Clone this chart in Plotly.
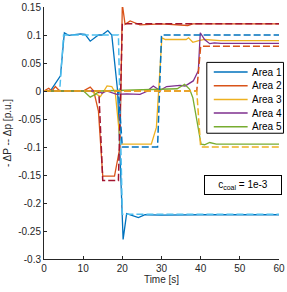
import plotly.graph_objects as go

# ---------------- data ----------------
area_names = ["Area 1", "Area 2", "Area 3", "Area 4", "Area 5"]

t_area1 = [0, 1.6, 4.2, 5.2, 6.3, 9.3, 10.5, 11.8, 13.9, 14.8, 16.3, 17.3, 18.8, 20.2, 21.1, 24.1, 25.8, 30, 40, 50, 60]
p_area1 = [0, 0, 0.027, 0.104, 0.0995, 0.102, 0.101, 0.089, 0.1, 0.1, 0.108, 0.1, 0.0, -0.265, -0.219, -0.226, -0.221, -0.2215, -0.221, -0.221, -0.221]

t_area2 = [0, 1.2, 2, 2.9, 4, 10, 11.8, 12.7, 13.9, 15.0, 18.0, 19.4, 20.0, 20.7, 22, 23.3, 24.5, 30, 36.7, 38, 45, 60]
p_area2 = [0, 0.005, 0, 0.008, 0, 0, 0.007, 0.0, -0.036, -0.152, -0.152, -0.1, 0.155, 0.119, 0.125, 0.121, 0.118, 0.12, 0.117, 0.12, 0.12, 0.12]

t_area3 = [0, 10, 12, 14.4, 16.1, 17.3, 18.2, 19.5, 20.5, 27.4, 28.7, 30.1, 31, 36.3, 36.9, 38, 39.5, 41, 45, 60]
p_area3 = [0, 0, 0, -0.01, 0.009, 0.008, -0.003, -0.095, -0.095, -0.095, -0.065, 0.095, 0.092, 0.092, 0.095, 0.087, 0.09, 0.092, 0.09, 0.09]

t_area4 = [0, 14, 14.8, 16, 18.6, 21.1, 24.5, 26.2, 27.9, 29.6, 31.3, 34.7, 36, 38.1, 39.4, 39.9, 41, 42.3, 43.5, 45.2, 60]
p_area4 = [0, 0, -0.004, 0, -0.006, -0.005, -0.006, -0.001, 0.009, 0.001, 0.008, 0.010, 0.009, 0.018, 0.036, 0.104, 0.092, 0.0845, 0.086, 0.085, 0.085]

t_area5 = [0, 10.1, 11.8, 13.1, 14.2, 20, 30, 34, 35.9, 37.2, 38, 39.4, 40.1, 41, 42.3, 44, 60]
p_area5 = [0, 0, -0.011, -0.006, 0, 0.001, 0.002, 0.004, 0.012, 0.003, -0.012, -0.071, -0.095, -0.096, -0.092, -0.095, -0.095]

# reference set points (dashed)
t_ref1 = [0, 4, 5, 19, 20, 60]
p_ref1 = [0, 0, 0.1, 0.1, -0.22, -0.22]
t_ref2 = [0, 14, 15, 19, 20, 60]
p_ref2 = [0, 0, -0.16, -0.16, 0.12, 0.12]
t_ref3 = [0, 19, 20, 29, 30, 60]
p_ref3 = [0, 0, -0.1, -0.1, 0.1, 0.1]
t_ref4 = [0, 39, 40, 60]
p_ref4 = [0, 0, 0.08, 0.08]
t_ref5 = [0, 39, 40, 60]
p_ref5 = [0, 0, -0.1, -0.1]

x_ticks = [0, 10, 20, 30, 40, 50, 60]
y_ticks = [0.15, 0.1, 0.05, 0, -0.05, -0.1, -0.15, -0.2, -0.25, -0.3]
y_tick_labels = ["0.15", "0.1", "0.05", "0", "-0.05", "-0.1", "-0.15", "-0.2", "-0.25", "-0.3"]
annotation_text = "c<sub>coal</sub> = 1e-3"

# ---------------- style ----------------
solid_colors = ["#0072BD", "#D95319", "#EDB120", "#7E2F8E", "#77AC30"]
dash_colors = ["#4DBEEE", "#A2142F", "#0072BD", "#D95319", "#EDB120"]
FONT = "Liberation Sans, Arial, Helvetica, sans-serif"
AX = "#262626"

W, H = 287, 292
L, R, T, B = 43.5, 279.5, 6.5, 259.0

def px_x(p):
    return (p - L) / (R - L)

def px_y(p):
    return (B - p) / (B - T)

fig = go.Figure()
solids = [(t_area1, p_area1), (t_area2, p_area2), (t_area3, p_area3), (t_area4, p_area4), (t_area5, p_area5)]
refs = [(t_ref1, p_ref1), (t_ref2, p_ref2), (t_ref3, p_ref3), (t_ref4, p_ref4), (t_ref5, p_ref5)]

for (t, p), c, n in zip(solids, solid_colors, area_names):
    fig.add_trace(go.Scatter(x=t, y=p, mode="lines", name=n,
                             line=dict(color=c, width=1.3), showlegend=False))
for (t, p), c, n in zip(refs, dash_colors, area_names):
    fig.add_trace(go.Scatter(x=t, y=p, mode="lines", name=n + " ref",
                             line=dict(color=c, width=1.5, dash="7px,3px"), showlegend=False))

# manual legend (compact, like the reference)
shapes = [dict(type="rect", xref="paper", yref="paper",
               x0=px_x(207), x1=px_x(284), y0=px_y(133), y1=px_y(62),
               line=dict(color="#000000", width=1), fillcolor="white", layer="above")]
annotations = []
for i, (n, c) in enumerate(zip(area_names, solid_colors)):
    yc = 71.7 + i * 13.7
    shapes.append(dict(type="line", xref="paper", yref="paper",
                       x0=px_x(214), x1=px_x(248), y0=px_y(yc), y1=px_y(yc),
                       line=dict(color=c, width=1.5), layer="above"))
    annotations.append(dict(xref="paper", yref="paper", x=px_x(250.5), y=px_y(yc),
                            xanchor="left", yanchor="middle", text=n, showarrow=False,
                            font=dict(family=FONT, size=10, color="#000000")))

annotations.append(dict(xref="paper", yref="paper", x=px_x(243), y=px_y(184.5),
                        xanchor="center", yanchor="middle", text=annotation_text,
                        showarrow=False, bgcolor="white", bordercolor="#000000",
                        borderwidth=1, borderpad=2, width=72, height=14,
                        font=dict(family=FONT, size=10, color="#000000")))

fig.update_layout(
    width=W, height=H,
    margin=dict(l=L, r=W - R, t=T, b=H - B, pad=0),
    paper_bgcolor="white", plot_bgcolor="white",
    font=dict(family=FONT, size=10, color=AX),
    shapes=shapes, annotations=annotations,
    showlegend=False,
)
fig.update_xaxes(range=[0, 60], tickvals=x_ticks, ticks="inside", ticklen=3,
                 tickcolor=AX, showline=True, linecolor=AX, linewidth=1,
                 showgrid=False, zeroline=False, mirror=False,
                 tickfont=dict(family=FONT, size=10, color=AX),
                 title=dict(text="Time [s]", font=dict(family=FONT, size=10, color=AX), standoff=2),
                 automargin=False)
fig.update_yaxes(range=[-0.3, 0.15], tickvals=y_ticks, ticktext=y_tick_labels,
                 ticks="inside", ticklen=3, tickcolor=AX, showline=True,
                 linecolor=AX, linewidth=1, showgrid=False, zeroline=False,
                 mirror=False, tickfont=dict(family=FONT, size=10, color=AX),
                 title=dict(text="- ΔP -- Δp [p.u.]", font=dict(family=FONT, size=10, color=AX), standoff=4),
                 automargin=False)

fig.write_html("out.html", config={"displayModeBar": False},
               post_script="document.body.style.margin='0';document.body.style.padding='0';")
